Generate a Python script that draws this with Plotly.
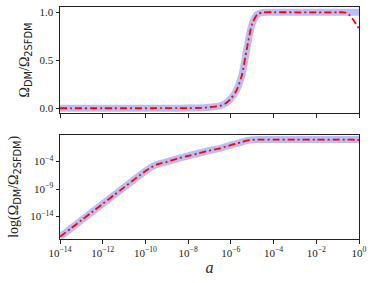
import plotly.graph_objects as go

# log10 of scale factor a
log_a = [-14, -13.5, -13, -12.5, -12, -11.5, -11, -10.5, -10.25, -10, -9.75, -9.5, -9.25,
         -9, -8.5, -8, -7.5, -7, -6.75, -6.5, -6.25, -6, -5.75, -5.5, -5.25, -5,
         -4.75, -4.5, -4, -3, -2, -1, -0.75, -0.6, -0.45, -0.3, -0.15, 0]

# Omega_DM / Omega_2SFDM (numerical, blue band)
ratio_num = [2.0e-18, 6.3e-17, 2.0e-15, 6.3e-14, 2.0e-12, 6.3e-11, 2.0e-9, 6.3e-8,
             3.5e-7, 1.8e-6, 7.9e-6, 2.5e-5, 5.0e-5, 8.9e-5, 3.5e-4, 1.1e-3, 3.2e-3,
             0.01, 0.016, 0.025, 0.05, 0.1, 0.18, 0.33, 0.62, 0.88,
             0.98, 0.998, 1.0, 1.0, 1.0, 1.0, 1.0, 1.0, 1.0, 1.0, 1.0, 1.0]

# Omega_DM / Omega_2SFDM (approximation, red dash-dot)
ratio_fit = [2.0e-18, 6.3e-17, 2.0e-15, 6.3e-14, 2.0e-12, 6.3e-11, 2.0e-9, 6.3e-8,
             3.5e-7, 1.8e-6, 7.9e-6, 2.5e-5, 5.0e-5, 8.9e-5, 3.5e-4, 1.1e-3, 3.2e-3,
             0.01, 0.016, 0.025, 0.05, 0.1, 0.18, 0.33, 0.62, 0.88,
             0.98, 0.998, 1.0, 1.0, 1.0, 1.0, 1.0, 0.995, 0.97, 0.93, 0.88, 0.83]

a_vals = [10 ** v for v in log_a]

x_tickvals = [1e-14, 1e-12, 1e-10, 1e-8, 1e-6, 1e-4, 1e-2, 1e0]
x_ticktext = ["10<sup>−14</sup>", "10<sup>−12</sup>", "10<sup>−10</sup>", "10<sup>−8</sup>",
              "10<sup>−6</sup>", "10<sup>−4</sup>", "10<sup>−2</sup>", "10<sup>0</sup>"]
y2_tickvals = [1e-14, 1e-9, 1e-4]
y2_ticktext = ["10<sup>−14</sup>", "10<sup>−9</sup>", "10<sup>−4</sup>"]

BLUE = "#bcbcf6"
RED = "#ff0000"
SERIF = "Liberation Serif"

fig = go.Figure()
for yax, xax in [("y", "x"), ("y2", "x2")]:
    fig.add_trace(go.Scatter(x=a_vals, y=ratio_num, mode="lines", xaxis=xax, yaxis=yax,
                             line=dict(color=BLUE, width=7, shape="spline", smoothing=0.8),
                             showlegend=False))
    fig.add_trace(go.Scatter(x=a_vals, y=ratio_fit, mode="lines", xaxis=xax, yaxis=yax,
                             line=dict(color=RED, width=1.8, shape="spline", smoothing=0.8,
                                       dash="7px,3px,2px,3px"),
                             showlegend=False))

axis_common = dict(showline=True, linecolor="#222", linewidth=1, mirror=True,
                   ticks="outside", ticklen=3.5, tickwidth=1, tickcolor="#222",
                   showgrid=False, zeroline=False,
                   tickfont=dict(family=SERIF, size=11, color="#222"))
title_font = dict(family=SERIF, size=14, color="#222")

sans = "<sub><span style=\"font-family:'DejaVu Sans'\">{}</span></sub>"
top_title = "Ω" + sans.format("DM") + "/Ω" + sans.format("2SFDM")
bot_title = "log(Ω" + sans.format("DM") + "/Ω" + sans.format("2SFDM") + ")"

fig.update_layout(
    width=374, height=283,
    margin=dict(l=60, r=15, t=7, b=44),
    paper_bgcolor="white", plot_bgcolor="white",
    xaxis=dict(type="log", range=[-14, 0], domain=[0, 1], anchor="y",
               tickvals=x_tickvals, showticklabels=False, **axis_common),
    yaxis=dict(range=[-0.05, 1.055], domain=[0.543, 1], anchor="x",
               tickvals=[0, 0.5, 1.0], ticktext=["0.0", "0.5", "1.0"],
               title=dict(text=top_title, font=title_font, standoff=6),
               **axis_common),
    xaxis2=dict(type="log", range=[-14, 0], domain=[0, 1], anchor="y2",
                tickvals=x_tickvals, ticktext=x_ticktext,
                title=dict(text="<i>a</i>", font=dict(family=SERIF, size=16, color="#222"),
                           standoff=4),
                **axis_common),
    yaxis2=dict(type="log", range=[-18.1, 0.9], domain=[0, 0.45], anchor="x2",
                tickvals=y2_tickvals, ticktext=y2_ticktext,
                title=dict(text=bot_title, font=title_font, standoff=8),
                **axis_common),
)

fig.write_html("out.html", config={"displayModeBar": False},
               post_script="document.body.style.margin='0';")
